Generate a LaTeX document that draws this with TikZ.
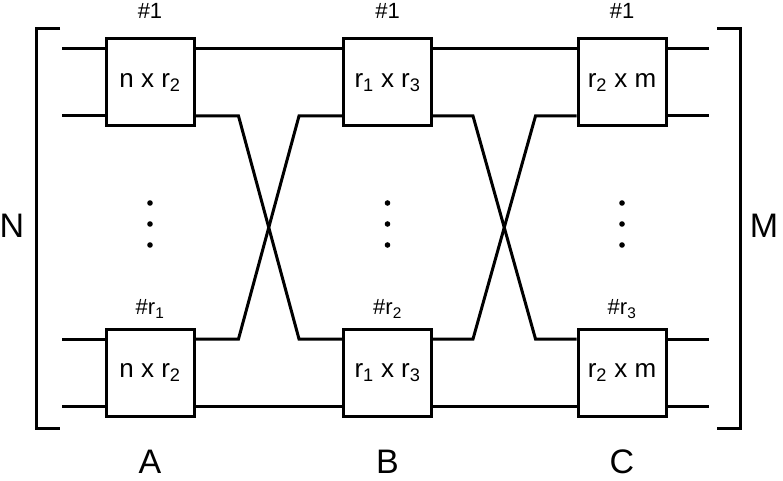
\documentclass[tikz,border=0pt]{standalone}
\usepackage{fontspec}
\setmainfont{Liberation Sans}
\usetikzlibrary{positioning, calc}

\begin{document}
\begin{tikzpicture}[
      x=1pt, y=-1pt,
      node distance=1cm,
      switch/.style={rectangle, draw, line width=3pt, minimum width=88pt, minimum height=87pt, inner sep=0pt, font=\fontsize{26}{30}\selectfont},
      tag/.style={inner sep=0pt, font=\fontsize{22}{25}\selectfont},
      stage/.style={inner sep=0pt, font=\fontsize{34}{38}\selectfont},
      wire/.style={line width=3pt, line join=miter}
  ]
      \useasboundingbox (0,0) rectangle (783,481);

      % Switches, first row
      \node[switch] (A1) at (150,82.5) {n x r\textsubscript{2}};
      \node[switch] (B1) at (387.5,82.5) {r\textsubscript{1} x r\textsubscript{3}};
      \node[switch] (C1) at (622,82.5) {r\textsubscript{2} x m};

      % Switches, last row
      \node[switch] (Ar) at (150,372.5) {n x r\textsubscript{2}};
      \node[switch] (Br) at (387.5,372.5) {r\textsubscript{1} x r\textsubscript{3}};
      \node[switch] (Cr) at (622,372.5) {r\textsubscript{2} x m};

      % Numbers over the switches
      \node[tag, above=19pt of A1] (tA1) {\#1};
      \node[tag, above=19pt of B1] (tB1) {\#1};
      \node[tag, above=19pt of C1] (tC1) {\#1};
      \node[tag, above=9pt of Ar] (tAr) {\#r\textsubscript{1}};
      \node[tag, above=9pt of Br] (tBr) {\#r\textsubscript{2}};
      \node[tag, above=9pt of Cr] (tCr) {\#r\textsubscript{3}};

      % Stage names
      \node[stage, below=32pt of Ar] (A) {A};
      \node[stage, below=32pt of Br] (B) {B};
      \node[stage, below=32pt of Cr] (C) {C};
      \node[stage] (N) at (12,226) {N};
      \node[stage] (M) at (764,226) {M};

      % Dots
      \foreach \x in {150,387.5,622}
          \foreach \y in {203,224,245}
              \fill (\x,\y) circle (2.8pt);

      % Inputs and outputs
      \coordinate (in1) at (62,49);
      \coordinate (in2) at (62,116);
      \coordinate (in3) at (62,339);
      \coordinate (in4) at (62,406);
      \coordinate (out1) at (709,49);
      \coordinate (out2) at (709,116);
      \coordinate (out3) at (709,339);
      \coordinate (out4) at (709,406);
      \draw[wire] (in1) -- ([yshift=33.5pt]A1.west);
      \draw[wire] (in2) -- ([yshift=-33.5pt]A1.west);
      \draw[wire] (in3) -- ([yshift=33.5pt]Ar.west);
      \draw[wire] (in4) -- ([yshift=-33.5pt]Ar.west);
      \draw[wire] ([yshift=33.5pt]C1.east) -- (out1);
      \draw[wire] ([yshift=-33.5pt]C1.east) -- (out2);
      \draw[wire] ([yshift=33.5pt]Cr.east) -- (out3);
      \draw[wire] ([yshift=-33.5pt]Cr.east) -- (out4);

      % Straight links
      \draw[wire] ([yshift=33.5pt]A1.east) -- ([yshift=33.5pt]B1.west);
      \draw[wire] ([yshift=33.5pt]B1.east) -- ([yshift=33.5pt]C1.west);
      \draw[wire] ([yshift=-33.5pt]Ar.east) -- ([yshift=-33.5pt]Br.west);
      \draw[wire] ([yshift=-33.5pt]Br.east) -- ([yshift=-33.5pt]Cr.west);

      % Crossed links
      \draw[wire] ([yshift=-33.5pt]A1.east) -- ++(43,0) -- ([xshift=-43pt,yshift=33.5pt]Br.west) -- ([yshift=33.5pt]Br.west);
      \draw[wire] ([yshift=33.5pt]Ar.east) -- ++(43,0) -- ([xshift=-43pt,yshift=-33.5pt]B1.west) -- ([yshift=-33.5pt]B1.west);
      \draw[wire] ([yshift=-33.5pt]B1.east) -- ++(40,0) -- ([xshift=-41pt,yshift=33.5pt]Cr.west) -- ([yshift=33.5pt]Cr.west);
      \draw[wire] ([yshift=33.5pt]Br.east) -- ++(40,0) -- ([xshift=-41pt,yshift=-33.5pt]C1.west) -- ([yshift=-33.5pt]C1.west);

      % Brackets
      \draw[line width=3pt] (60,29) -- (36,29) -- (36,428) -- (60,428);
      \draw[line width=3pt] (717,29) -- (740,29) -- (740,428) -- (717,428);
  \end{tikzpicture}
\end{document}
